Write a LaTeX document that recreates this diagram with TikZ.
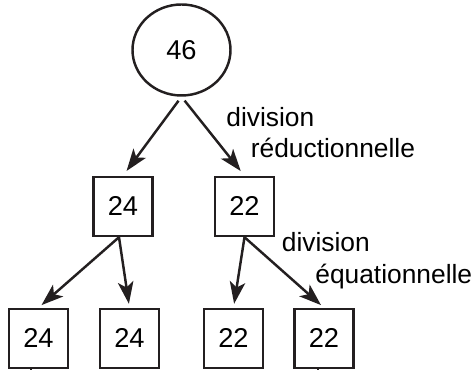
\documentclass[tikz,border=0pt]{standalone}
\usepackage{fontspec}
\setmainfont{Liberation Sans}
\usetikzlibrary{arrows.meta,shapes.geometric}

\begin{document}
\begin{tikzpicture}[
    font=\fontsize{15}{18}\selectfont,
    cell/.style={draw, line width=1.4pt, minimum size=1.18cm, inner sep=0pt, font=\fontsize{15.5}{18}\selectfont},
    arrow/.style={line width=1.4pt, -{Stealth[length=0.44cm, width=0.31cm, inset=0.11cm]}},
    label/.style={anchor=base west, inner sep=0pt}
  ]
    % Define colours
    \definecolor{lineColour}{HTML}{231F20}

    % Fix picture size
    \useasboundingbox (0,0) rectangle (9.46,7.4);

    % Draw the mother cell
    \node[ellipse, draw=lineColour, line width=1.4pt, minimum width=1.96cm, minimum height=1.82cm, font=\fontsize{15.5}{18}\selectfont] (mother) at (3.63,6.40) {46};

    % Draw the cells after the first division
    \node[cell, draw=lineColour] (left) at (2.46,3.27) {24};
    \node[cell, draw=lineColour] (right) at (4.89,3.27) {22};

    % Draw the cells after the second division
    \node[cell, draw=lineColour] (leftA) at (0.77,0.63) {24};
    \node[cell, draw=lineColour] (leftB) at (2.59,0.63) {24};
    \node[cell, draw=lineColour] (rightA) at (4.67,0.63) {22};
    \node[cell, draw=lineColour] (rightB) at (6.48,0.63) {22};

    % Draw the arrows
    \draw[arrow, draw=lineColour, shorten <=0.1cm, shorten >=0.12cm] (mother.south) -- (left.north);
    \draw[arrow, draw=lineColour, shorten <=0.1cm, shorten >=0.12cm] (mother.south) -- (right.north);
    \draw[arrow, draw=lineColour, shorten >=0.08cm] ([xshift=-0.08cm]left.south) -- (leftA.north);
    \draw[arrow, draw=lineColour, shorten >=0.08cm] ([xshift=-0.08cm]left.south) -- (leftB.north);
    \draw[arrow, draw=lineColour, shorten >=0.08cm] (right.south) -- (rightA.north);
    \draw[arrow, draw=lineColour, shorten >=0.08cm] (right.south) -- (rightB.north);

    % Draw the cut-off lines below
    \coordinate (endA) at (0.62,-0.2);
    \coordinate (endB) at (6.36,-0.2);
    \draw[line width=1pt, draw=lineColour] (leftA.south -| endA) -- (endA);
    \draw[line width=1pt, draw=lineColour] (rightB.south -| endB) -- (endB);

    % Label the divisions
    \node[label] (divA) at (4.52,4.86) {division};
    \node[label] (divAname) at (5.01,4.24) {réductionnelle};
    \node[label] (divB) at (5.63,2.37) {division};
    \node[label] (divBname) at (6.30,1.73) {équationnelle};

\end{tikzpicture}
\end{document}
